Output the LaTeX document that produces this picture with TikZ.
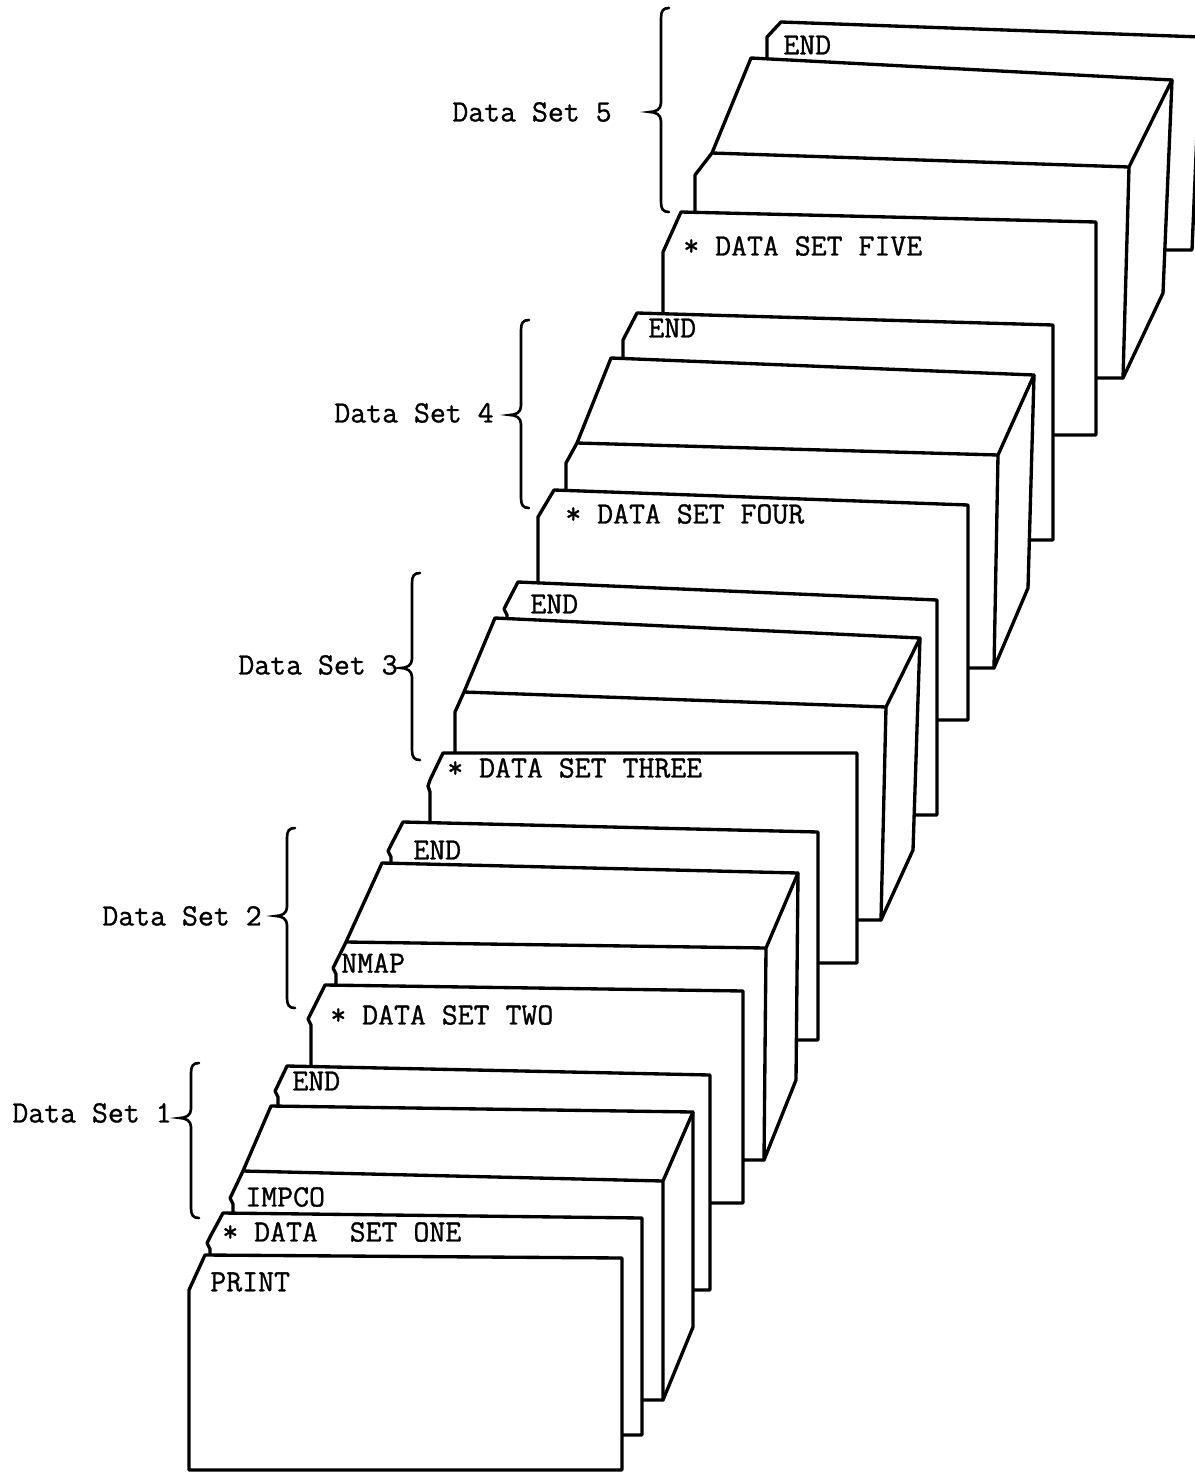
\documentclass[tikz,border=0pt]{standalone}
\usepackage{fontspec}
\newfontfamily\typewriter[FakeBold=1]{Latin Modern Mono}
\usetikzlibrary{calc}

% flat card: cut start x,y ; left x ; cut end y ; right x ; top right y ; bottom y ; kink
\newcommand{\flatcard}[8]{%
  \draw[card] (#1,#2) -- (#5,#6) -- (#5,#7) -- (#3,#7) -- (#3,#4+12)
    -- (#3-#8,#4+6) -- (#3,#4) -- cycle;
}
% deck block: back left, back right, back right bottom, front bottom right,
% front bottom left, cut end, front top left, front top right, kink
\newcommand{\deckblock}[9]{%
  \draw[card] (#1) -- (#2) -- (#3) -- (#4) -- (#5) -- ($(#6)+(0,12)$)
    -- ($(#6)+(-#9,6)$) -- (#6) -- (#7) -- cycle;
  \draw[edge] (#7) -- (#8) -- (#2) (#8) -- (#4);
}
% brace: stem x, top y, tip y, bottom y
\newcommand{\setbrace}[4]{%
  \draw[brace] (#1+8,#2) .. controls (#1+2,#2) and (#1,#2+3) .. (#1,#2+10)
    -- (#1,#3-9) .. controls (#1,#3-3) and (#1-5,#3) .. (#1-11,#3)
    .. controls (#1-5,#3) and (#1,#3+3) .. (#1,#3+9)
    -- (#1,#4-10) .. controls (#1,#4-3) and (#1+2,#4) .. (#1+8,#4);
}

\begin{document}
\begin{tikzpicture}[x=0.02cm, y=-0.02cm,
    card/.style={draw, fill=white, line width=1.9pt, line join=round},
    edge/.style={line width=1.9pt, line cap=round},
    brace/.style={line width=1.5pt, line cap=round},
    lbl/.style={inner sep=0pt, anchor=west, font=\fontsize{17.6pt}{20pt}\selectfont\typewriter},
    setlbl/.style={lbl, anchor=east}]
\useasboundingbox (0,0) rectangle (1194,1473);

% data set 5
\draw[card] (781,22) -- (1201,37) -- (1192,250) -- (767,250) -- (767,37) -- cycle;
\node[lbl] (endfive) at (783,45) {END};
\deckblock{751,58}{1172,80}{1163,293}{1123,378}{695,378}{695,175}{712,153}{1129,167}{0}
\flatcard{681}{212}{663}{252}{1096}{222}{435}{0}
\node[lbl] (dsfive) at (683,246) {* DATA SET FIVE};

% data set 4
\flatcard{637}{313}{623}{340}{1053}{325}{540}{0}
\node[lbl] (endfour) at (648,328) {END};
\deckblock{611,358}{1034,375}{1028,588}{994,668}{566,668}{566,463}{577,443}{998,455}{0}
\flatcard{554}{490}{538}{517}{968}{505}{720}{0}
\node[lbl] (dsfour) at (565,514) {* DATA SET FOUR};

% data set 3
\flatcard{518}{582}{507}{603}{937}{600}{815}{3}
\node[lbl] (endthree) at (530,604) {END};
\deckblock{495,618}{920,638}{913,850}{881,920}{455,920}{455,712}{464,692}{886,707}{0}
\flatcard{443}{753}{430}{780}{857}{753}{963}{2}
\node[lbl] (dsthree) at (447,768) {* DATA SET THREE};

% data set 2
\flatcard{403}{822}{391}{845}{818}{832}{1040}{3}
\node[lbl] (endtwo) at (413,850) {END};
\deckblock{382,863}{798,873}{796,1080}{764,1160}{336,1160}{336,962}{346,942}{766,948}{3}
\node[lbl] (nmap) at (341,963) {NMAP};
\flatcard{325}{985}{311}{1013}{743}{991}{1203}{3}
\node[lbl] (dstwo) at (330,1015) {* DATA SET TWO};

% data set 1
\flatcard{287}{1066}{278}{1085}{710}{1075}{1290}{3}
\node[lbl] (endone) at (292,1081) {END};
\deckblock{271,1106}{693,1112}{693,1327}{663,1400}{233,1400}{233,1192}{243,1171}{663,1181}{3}
\node[lbl] (impco) at (245,1197) {IMPCO};
\flatcard{223}{1213}{210}{1237}{642}{1218}{1435}{3}
\node[lbl] (dsone) at (222,1232) {* DATA\ \ SET ONE};
\flatcard{205}{1255}{189}{1290}{622}{1258}{1470}{0}
\node[lbl] (print) at (210,1282) {PRINT};

% set braces and names
\setbrace{661}{8}{112}{212}
\node[setlbl] (setfive) at (612,112) {Data Set 5};
\setbrace{521}{320}{415}{508}
\node[setlbl] (setfour) at (494,413) {Data Set 4};
\setbrace{412}{573}{668}{760}
\node[setlbl] (setthree) at (398,665) {Data Set 3};
\setbrace{287}{828}{916}{1008}
\node[setlbl] (settwo) at (262,916) {Data Set 2};
\setbrace{191}{1063}{1118}{1218}
\node[setlbl] (setone) at (172,1113) {Data Set 1};
\end{tikzpicture}
\end{document}
